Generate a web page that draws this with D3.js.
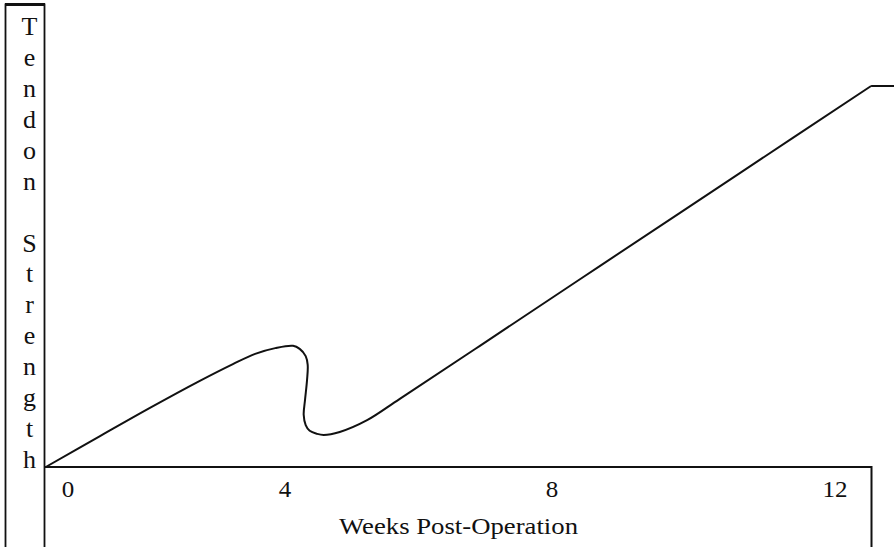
<!DOCTYPE html>
<html>
<head>
<meta charset="utf-8">
<script src="https://cdn.jsdelivr.net/npm/d3@7"></script>
<style>
  body { margin: 0; background: #fff; }
  text { font-family: "Liberation Serif", "Times New Roman", serif; fill: #111; }
</style>
</head>
<body>
<div id="chart"></div>
<script>
// size of the page
var w = 894;
var h = 547;

// data (weeks, relative strength 0-100)
var tickWeeks = [0, 4, 8, 12];
var tickLabels = ["0", "4", "8", "12"];

var curveWeeks = [-0.41, 0.59, 1.51, 2.43, 3.04, 3.45, 3.82, 4.12, 4.22, 4.31, 4.34, 4.33, 4.30, 4.28,
  4.31, 4.37, 4.48, 4.58, 4.82, 5.23, 5.72, 6.92, 8.68, 10.66, 12.51];
var curveStrength = [0, 8.1, 15.5, 22.6, 27.0, 29.7, 31.2, 31.8, 31.0, 29.1, 26.8, 22.8, 17.6, 13.7,
  11.0, 9.5, 8.7, 8.4, 9.2, 12.3, 17.9, 31.8, 52.8, 77.2, 100];

// flat part after the last point
var tailWeeks = [12.51, 12.84];
var tailStrength = [100, 100];

var yTitle = "Tendon Strength";
var xTitle = "Weeks Post-Operation";

// scales (label spacing in the figure is uneven, so piecewise)
var x = d3.scaleLinear().domain(tickWeeks).range([68, 285, 552, 835]);
var y = d3.scaleLinear().domain([0, 100]).range([467, 86]);

var svg = d3.select("#chart")
  .append("svg")
  .attr("width", w)
  .attr("height", h);

//--------------------------- frames ---------------------------//

// left box holding the vertical title
svg.append("path")
  .attr("d", "M5.5," + (h + 2) + "V4.5H44.5V" + (h + 2))
  .attr("fill", "none")
  .attr("stroke", "#111")
  .attr("stroke-width", 1.8);
svg.append("line")
  .attr("x1", 5).attr("x2", 45)
  .attr("y1", 4.5).attr("y2", 4.5)
  .attr("stroke", "#111")
  .attr("stroke-width", 3);

// bottom box holding the axis labels
svg.append("path")
  .attr("d", "M45," + y(0) + "H871.5V" + (h + 2))
  .attr("fill", "none")
  .attr("stroke", "#111")
  .attr("stroke-width", 2);

//--------------------------- titles ---------------------------//

var letters = yTitle.split("");
var ly = d3.scalePoint()
  .domain(d3.range(letters.length))
  .range([35, 468]);

svg.selectAll("text.ylet")
  .data(letters)
  .enter()
  .append("text")
  .attr("class", "ylet")
  .attr("x", 29.5)
  .attr("y", function(d, i) {
    return ly(i);
  })
  .attr("text-anchor", "middle")
  .attr("font-size", "26px")
  .text(function(d) {
    return d;
  });

svg.selectAll("text.tick")
  .data(tickWeeks)
  .enter()
  .append("text")
  .attr("class", "tick")
  .attr("x", function(d) {
    return x(d);
  })
  .attr("y", 497)
  .attr("text-anchor", "middle")
  .attr("font-size", "24px")
  .attr("textLength", function(d, i) {
    return tickLabels[i].length * 12.5;
  })
  .attr("lengthAdjust", "spacingAndGlyphs")
  .text(function(d, i) {
    return tickLabels[i];
  });

svg.append("text")
  .attr("x", 339)
  .attr("y", 534)
  .attr("font-size", "24px")
  .attr("textLength", 239)
  .attr("lengthAdjust", "spacingAndGlyphs")
  .text(xTitle);

//--------------------------- curve ---------------------------//

var curvePts = curveWeeks.map(function(d, i) {
  return [d, curveStrength[i]];
});
var tailPts = tailWeeks.map(function(d, i) {
  return [d, tailStrength[i]];
});

var smooth = d3.line()
  .x(function(d) { return x(d[0]); })
  .y(function(d) { return y(d[1]); })
  .curve(d3.curveCatmullRom.alpha(0.5));

var straight = d3.line()
  .x(function(d) { return x(d[0]); })
  .y(function(d) { return y(d[1]); });

svg.append("path")
  .attr("d", smooth(curvePts))
  .attr("fill", "none")
  .attr("stroke", "#111")
  .attr("stroke-width", 2);

svg.append("path")
  .attr("d", straight(tailPts))
  .attr("fill", "none")
  .attr("stroke", "#111")
  .attr("stroke-width", 2);
</script>
</body>
</html>
